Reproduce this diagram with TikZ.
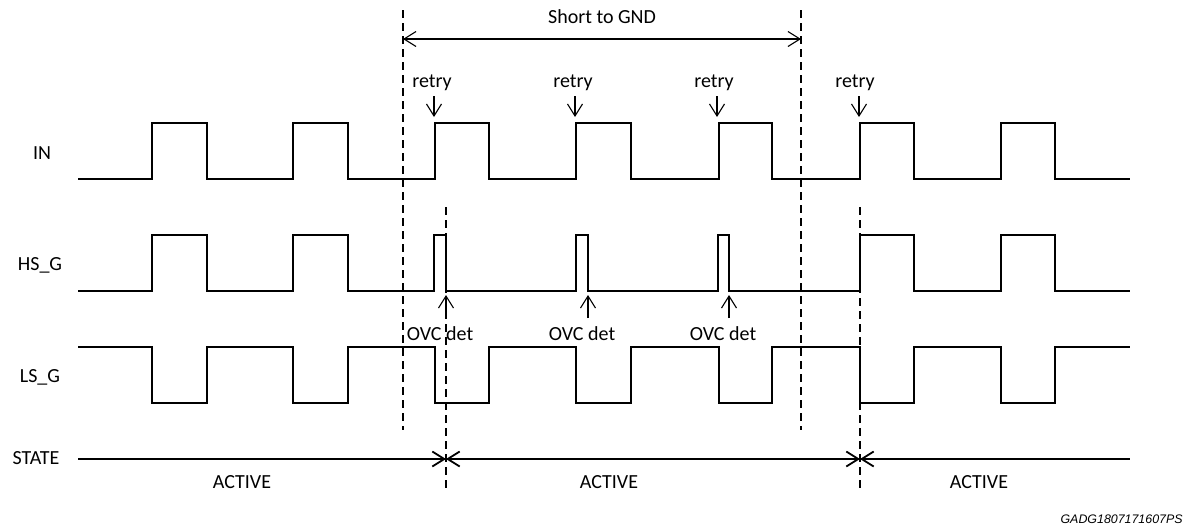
\documentclass[tikz,border=0pt]{standalone}
\usepackage{fontspec}
\setmainfont{Carlito}
\newfontfamily\idfont{Liberation Sans}
\usetikzlibrary{arrows.meta}
\tikzset{
  wave/.style = {line width = .9pt, line join = miter},
  guide/.style = {line width = .6pt, dash pattern = on 4pt off 2.5pt},
  pointer/.style = {line width = .55pt},
  sig/.style = {font = \fontsize{10}{12}\selectfont, inner sep = 1pt}
}
\begin{document}
\begin{tikzpicture}[x = .5pt, y = -.5pt,
    > = {Straight Barb[length = 6pt, width = 7.5pt]}]
  \useasboundingbox (0,0) rectangle (1194,527);
  % signal names
  \node [sig] (in) at (42,153) {IN};
  \node [sig] (hsg) at (40,265) {HS\_G};
  \node [sig] (lsg) at (40,377) {LS\_G};
  \node [sig] (state) at (36,458) {STATE};
  % waveforms
  \draw [wave] (78,179) -| (152,123) -| (207,179) -| (293,123) -| (348,179)
    -| (435,123) -| (489,179) -| (576,123) -| (631,179) -| (719,123)
    -| (772,179) -| (860,123) -| (914,179) -| (1001,123) -| (1055,179)
    -- (1130,179);
  \draw [wave] (78,291) -| (152,235) -| (207,291) -| (293,235) -| (348,291)
    -| (434,235) -| (446,291) -| (576,235) -| (588,291) -| (718,235)
    -| (729,291) -| (860,235) -| (914,291) -| (1001,235) -| (1055,291)
    -- (1130,291);
  \draw [wave] (78,347) -| (152,403) -| (207,347) -| (293,403) -| (348,347)
    -| (435,403) -| (489,347) -| (576,403) -| (631,347) -| (719,403)
    -| (772,347) -| (860,403) -| (914,347) -| (1001,403) -| (1055,347)
    -- (1130,347);
  % short to GND window
  \coordinate (sA) at (403,10);
  \coordinate (sB) at (403,430);
  \coordinate (eA) at (801,10);
  \coordinate (eB) at (801,430);
  \draw [guide] (sA) -- (sB);
  \draw [guide] (eA) -- (eB);
  \coordinate (gl) at (403,39);
  \coordinate (gr) at (801,39);
  \draw [pointer, <->] (gl) -- (gr);
  \node [sig] (short) at (602,17) {Short to GND};
  % retry marks
  \node [sig] (retryA) at (432,83) {retry};
  \node [sig] (retryB) at (573,83) {retry};
  \node [sig] (retryC) at (714,83) {retry};
  \node [sig] (retryD) at (855,83) {retry};
  \coordinate (rA0) at (434,96);  \coordinate (rA1) at (434,117);
  \coordinate (rB0) at (575,96);  \coordinate (rB1) at (575,117);
  \coordinate (rC0) at (717,96);  \coordinate (rC1) at (717,117);
  \coordinate (rD0) at (859,96);  \coordinate (rD1) at (859,117);
  \draw [pointer, ->] (rA0) -- (rA1);
  \draw [pointer, ->] (rB0) -- (rB1);
  \draw [pointer, ->] (rC0) -- (rC1);
  \draw [pointer, ->] (rD0) -- (rD1);
  % overcurrent detection
  \node [sig] (ovcA) at (440,334) {OVC det};
  \node [sig] (ovcB) at (582,334) {OVC det};
  \node [sig] (ovcC) at (723,334) {OVC det};
  \coordinate (oA0) at (446,318);  \coordinate (oA1) at (446,295);
  \coordinate (oB0) at (588,318);  \coordinate (oB1) at (588,295);
  \coordinate (oC0) at (729,318);  \coordinate (oC1) at (729,295);
  \draw [pointer, ->] (oA0) -- (oA1);
  \draw [pointer, ->] (oB0) -- (oB1);
  \draw [pointer, ->] (oC0) -- (oC1);
  \coordinate (dA) at (446,207);
  \coordinate (dB) at (446,488);
  \coordinate (rcA) at (860,207);
  \coordinate (rcB) at (860,488);
  \draw [guide] (dA) -- (dB);
  \draw [guide] (rcA) -- (rcB);
  % state line
  \coordinate (st0) at (78,459);
  \coordinate (stA) at (446,459);
  \coordinate (stB) at (860,459);
  \coordinate (st1) at (1130,459);
  \draw [wave, ->] (st0) -- (stA);
  \draw [wave, <->] (stA) -- (stB);
  \draw [wave, <-] (stB) -- (st1);
  \node [sig] (actA) at (242,482) {ACTIVE};
  \node [sig] (actB) at (609,482) {ACTIVE};
  \node [sig] (actC) at (979,482) {ACTIVE};
  \node [font = \idfont\itshape\fontsize{6.2}{7}\selectfont,
         anchor = east, inner sep = 0pt]
    (figid) at (1183,519) {GADG1807171607PS};
\end{tikzpicture}
\end{document}
